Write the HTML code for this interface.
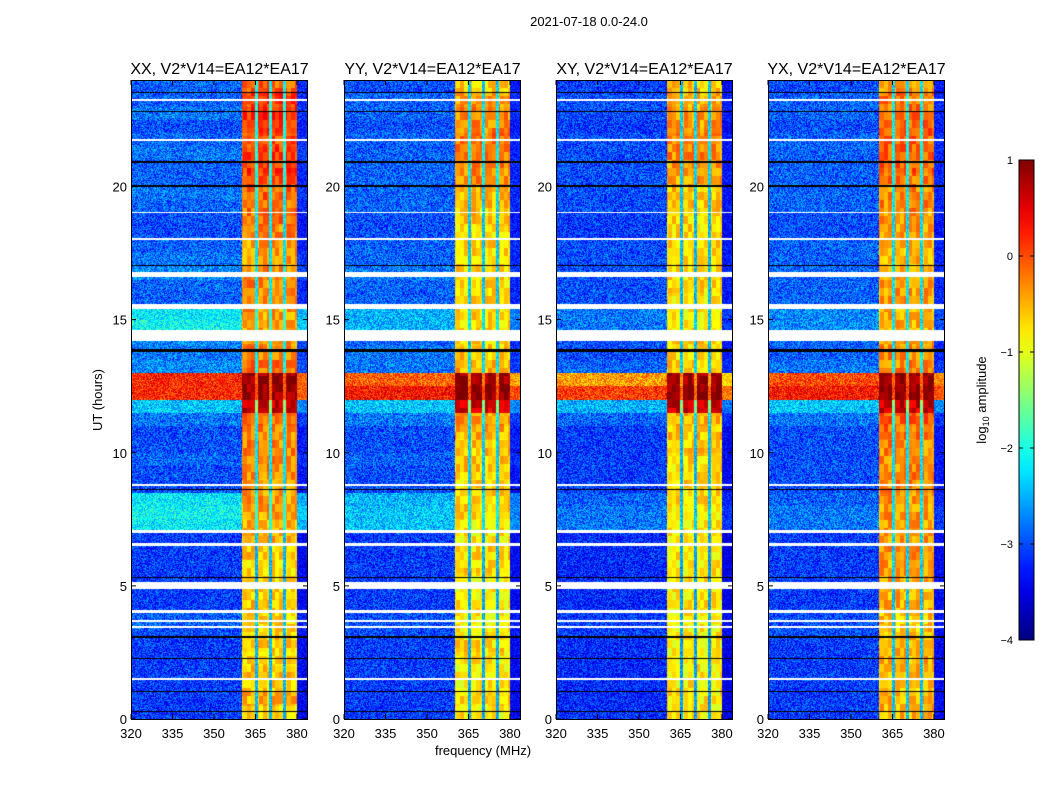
<!DOCTYPE html>
<html><head><meta charset="utf-8">
<style>
body{margin:0;background:#fff;font-family:"Liberation Sans",sans-serif;}
#wrap{position:relative;width:1050px;height:800px;overflow:hidden;}
canvas{position:absolute;}
</style></head>
<body>
<div id="wrap">
<svg id="svg" width="1050" height="800" style="position:absolute;left:0;top:0"></svg>
</div>
<script>
// ---- data ----
const panelTitles = ["XX, V2*V14=EA12*EA17","YY, V2*V14=EA12*EA17","XY, V2*V14=EA12*EA17","YX, V2*V14=EA12*EA17"];
const xTicks = [320,335,350,365,380];
const yTicks = [0,5,10,15,20];
const cbTicks = [1,0,-1,-2,-3,-4];
// frequency channel type, 1 MHz channels 320..383 : 0=background,1=band,2=band divider,3=edge
const freqType = [0,0,0,0,0,0,0,0,0,0, 0,0,0,0,0,0,0,0,0,0, 0,0,0,0,0,0,0,0,0,0, 0,0,0,0,0,0,0,0,0,0,
  1,1,1,1,1,2,1,1,1,1, 2,1,1,1,1,2,1,1,1,1, 3,3,3,3];
// half-hour bins (48) of log10 amplitude, per panel
const bgXX = [-3.1,-3.1,-3.1,-3.1,-3.1,-3.1,-3.0,-2.9,-3.1,-3.1,-3.1,-3.1,-3.1,-3.1,-2.2,-2.1,-2.2,-3.0,-3.0,-2.9,-3.0,-3.0,-2.8,-2.4,0.2,0.2,-2.7,-2.8,-2.7,-2.1,-2.2,-2.9,-2.9,-2.7,-2.8,-2.9,-3.0,-3.0,-2.9,-2.8,-2.9,-2.9,-2.8,-2.9,-3.0,-2.8,-2.9,-2.9];
const bandXX = [-0.7,-0.5,-0.7,-0.6,-0.7,-0.6,-0.7,-0.7,-0.6,-0.7,-0.7,-0.7,-0.6,-0.5,-0.5,-0.4,-0.4,-0.4,-0.3,-0.3,-0.3,-0.3,-0.2,0.6,0.9,0.9,-0.2,-0.3,-0.4,-0.4,-0.4,-0.3,-0.3,-0.3,-0.4,-0.4,-0.3,-0.2,-0.2,-0.1,0.0,0.1,0.1,0.0,0.1,0.2,0.1,-0.1];
const bgYY = [-3.1,-3.1,-3.1,-3.1,-3.1,-3.1,-3.0,-3.0,-3.1,-3.1,-3.1,-3.1,-3.1,-3.1,-2.4,-2.4,-2.5,-3.0,-3.0,-2.9,-3.0,-3.0,-2.8,-2.4,0.3,-0.1,-2.8,-2.8,-2.9,-2.5,-2.5,-2.9,-2.9,-2.8,-2.9,-2.9,-3.0,-3.0,-2.9,-2.9,-2.9,-2.9,-2.9,-2.9,-3.0,-2.9,-2.9,-3.0];
const bandYY = [-0.8,-0.7,-0.8,-0.8,-0.8,-0.7,-0.8,-0.8,-0.8,-0.8,-0.8,-0.7,-0.7,-0.8,-0.8,-0.7,-0.7,-0.7,-0.6,-0.6,-0.6,-0.5,-0.4,0.6,1.0,0.9,-0.5,-0.6,-0.7,-0.7,-0.7,-0.7,-0.7,-0.7,-0.7,-0.7,-0.7,-0.6,-0.6,-0.5,-0.3,-0.3,-0.2,-0.2,-0.3,-0.3,-0.4,-0.6];
const bgXY = [-3.2,-3.2,-3.2,-3.2,-3.2,-3.2,-3.1,-3.1,-3.2,-3.2,-3.2,-3.2,-3.2,-3.2,-2.8,-2.8,-2.9,-3.1,-3.1,-3.1,-3.1,-3.1,-2.9,-2.5,0.1,-0.4,-2.9,-3.0,-3.0,-2.8,-2.8,-3.0,-3.0,-3.0,-3.0,-3.0,-3.1,-3.1,-3.0,-3.0,-3.0,-3.0,-3.0,-3.0,-3.1,-3.0,-3.0,-3.1];
const bandXY = [-0.8,-0.8,-0.8,-0.8,-0.8,-0.8,-0.8,-0.8,-0.8,-0.8,-0.8,-0.8,-0.8,-0.8,-0.8,-0.8,-0.7,-0.7,-0.7,-0.7,-0.6,-0.6,-0.5,0.6,1.0,0.9,-0.6,-0.7,-0.7,-0.8,-0.8,-0.8,-0.7,-0.7,-0.7,-0.7,-0.7,-0.7,-0.6,-0.6,-0.4,-0.4,-0.3,-0.3,-0.4,-0.4,-0.5,-0.6];
const bgYX = [-3.1,-3.1,-3.1,-3.1,-3.1,-3.1,-3.0,-3.0,-3.1,-3.1,-3.1,-3.1,-3.1,-3.1,-2.8,-2.8,-2.9,-3.0,-3.0,-3.0,-3.0,-3.0,-2.8,-2.4,0.3,0.0,-2.8,-2.9,-2.9,-2.7,-2.7,-2.9,-2.9,-2.9,-2.9,-2.9,-3.0,-3.0,-2.9,-2.9,-2.9,-2.9,-2.9,-2.9,-3.0,-2.9,-2.9,-3.0];
const bandYX = [-0.5,-0.5,-0.6,-0.5,-0.5,-0.5,-0.6,-0.6,-0.5,-0.5,-0.4,-0.4,-0.4,-0.4,-0.4,-0.4,-0.4,-0.3,-0.3,-0.3,-0.3,-0.2,-0.1,0.6,1.0,0.9,-0.3,-0.3,-0.4,-0.5,-0.5,-0.4,-0.4,-0.4,-0.5,-0.5,-0.4,-0.4,-0.3,-0.3,-0.2,-0.1,-0.1,-0.1,-0.1,-0.2,-0.2,-0.4];
const bgSeries = [bgXX,bgYY,bgXY,bgYX];
const bandSeries = [bandXX,bandYY,bandXY,bandYX];
// flagged (white) and dropout (black) time intervals in hours
const flagStart = [1.45,3.4,3.65,4.0,4.9,6.5,7.0,8.75,14.2,15.4,16.6,18.0,19.0,21.7,23.2];
const flagEnd   = [1.55,3.5,3.72,4.1,5.15,6.6,7.1,8.82,14.6,15.6,16.8,18.08,19.06,21.8,23.3];
const darkStart = [0.25,1.0,2.25,3.05,5.3,8.6,13.8,17.0,20.0,20.9,22.8,23.5];
const darkEnd   = [0.3,1.05,2.3,3.1,5.35,8.65,13.9,17.05,20.05,20.95,22.85,23.55];

// ---- layout ----
const panelX = [131,344,556,768], PW=177, PT=80, PB=719, PH=PB-PT;
const fmin=320,fmax=384,tmin=0,tmax=24;
const xs=(f,i)=>panelX[i]+(f-fmin)/(fmax-fmin)*PW;
const ys=t=>PB-(t-tmin)/(tmax-tmin)*PH;
const svg=document.getElementById('svg'), wrap=document.getElementById('wrap');
const NS='http://www.w3.org/2000/svg';
function el(tag,attrs,parent){const e=document.createElementNS(NS,tag);for(const k in attrs)e.setAttribute(k,attrs[k]);(parent||svg).appendChild(e);return e;}
function txt(s,x,y,size,anchor,extra){const e=el('text',Object.assign({x:x,y:y,'font-size':size,'text-anchor':anchor||'middle','font-family':'Liberation Sans, sans-serif',fill:'#000'},extra||{}));e.textContent=s;return e;}
function jet(v){let t=Math.max(0,Math.min(1,(v+4)/5));
  const r=Math.max(0,Math.min(1,1.5-Math.abs(4*t-3))),g=Math.max(0,Math.min(1,1.5-Math.abs(4*t-2))),b=Math.max(0,Math.min(1,1.5-Math.abs(4*t-1)));
  return [r*255|0,g*255|0,b*255|0];}
function hash(a,b,c){let h=(a*374761393+b*668265263+c*2147483647)|0;h=(h^(h>>>13))*1274126177|0;return ((h^(h>>>16))>>>0)/4294967295;}
function inRanges(t,s,e){for(let k=0;k<s.length;k++)if(t>=s[k]&&t<e[k])return true;return false;}

const sup=txt('2021-07-18 0.0-24.0',589,26,13);


for(let p=0;p<4;p++){
  const cv=document.createElement('canvas');
  cv.width=PW;cv.height=PH;cv.style.left=panelX[p]+'px';cv.style.top=PT+'px';
  
  
  wrap.insertBefore(cv,svg);
  const ctx=cv.getContext('2d'),img=ctx.createImageData(PW,PH);
  const bg=bgSeries[p],band=bandSeries[p];
  for(let row=0;row<PH;row++){
    const t=tmax-(row+0.5)/PH*(tmax-tmin);
    const bin=Math.min(47,Math.floor(t*2));
    const white=inRanges(t,flagStart,flagEnd),dark=inRanges(t,darkStart,darkEnd);
    for(let col=0;col<PW;col++){
      const f=fmin+(col+0.5)/PW*(fmax-fmin);
      const ch=Math.min(63,Math.floor(f-fmin));
      const ty=freqType[ch];
      let v;
      if(ty===1)v=band[bin]+(hash(row>>3,col>>2,p)-0.5)*0.6;
      else if(ty===2)v=(bg[bin]+band[bin])/2-0.6+(hash(row,col,p)-0.5)*0.6;
      else if(ty===3)v=bg[bin]-0.3+(hash(row,col,p)-0.5)*0.7;
      else v=bg[bin]+(hash(row,col,p)-0.5)*1.0;
      let c=jet(v);
      if(white)c=[255,255,255];else if(dark)c=[0,0,0];
      const i=(row*PW+col)*4;img.data[i]=c[0];img.data[i+1]=c[1];img.data[i+2]=c[2];img.data[i+3]=255;
    }
  }
  ctx.putImageData(img,0,0);
  const g=el('g',{});
  
  
  el('rect',{x:panelX[p]+0.5,y:PT+0.5,width:PW-1,height:PH,fill:'none',stroke:'#000','stroke-width':1},g);
  const tt=txt(panelTitles[p],panelX[p]+PW/2,74,16,'middle',{});
  
  xTicks.forEach(f=>{const x=xs(f,p);
    el('line',{x1:x,x2:x,y1:PB,y2:PB-5,stroke:'#000'},g);el('line',{x1:x,x2:x,y1:PT,y2:PT+5,stroke:'#000'},g);
    const l=txt(String(f),x,738,13);});
  yTicks.forEach(t=>{const y=ys(t);
    el('line',{x1:panelX[p],x2:panelX[p]+5,y1:y,y2:y,stroke:'#000'},g);el('line',{x1:panelX[p]+PW,x2:panelX[p]+PW-5,y1:y,y2:y,stroke:'#000'},g);
    const l=txt(String(t),panelX[p]-4,y+5,13,'end');});
}
const xl=txt('frequency (MHz)',483,755,13);
const yl=txt('UT (hours)',102,400,13,'middle',{transform:'rotate(-90 102 400)'});

// colorbar
const CX=1019,CW=15,CT=160,CB=640;
const defs=el('defs',{});const lg=el('linearGradient',{id:'jetg',x1:0,y1:1,x2:0,y2:0},defs);
for(let k=0;k<=20;k++){const c=jet(-4+5*k/20);el('stop',{offset:(k/20),'stop-color':'rgb('+c.join(',')+')'},lg);}
const cb=el('rect',{x:CX,y:CT,width:CW,height:CB-CT,fill:'url(#jetg)',stroke:'#000','stroke-width':1});

cbTicks.forEach(v=>{const y=CB-(v+4)/5*(CB-CT);
  el('line',{x1:CX,x2:CX+4,y1:y,y2:y,stroke:'#000'});el('line',{x1:CX+CW,x2:CX+CW-4,y1:y,y2:y,stroke:'#000'});
  const l=txt(v<0?'\u2212'+(-v):String(v),1013,y+4,11,'end');});
const cl=el('text',{x:986,y:400,'font-size':13,'text-anchor':'middle','font-family':'Liberation Sans, sans-serif',transform:'rotate(-90 986 400)'});
cl.innerHTML='log<tspan font-size="9" dy="3">10</tspan><tspan dy="-3"> amplitude</tspan>';

</script>
</body></html>
